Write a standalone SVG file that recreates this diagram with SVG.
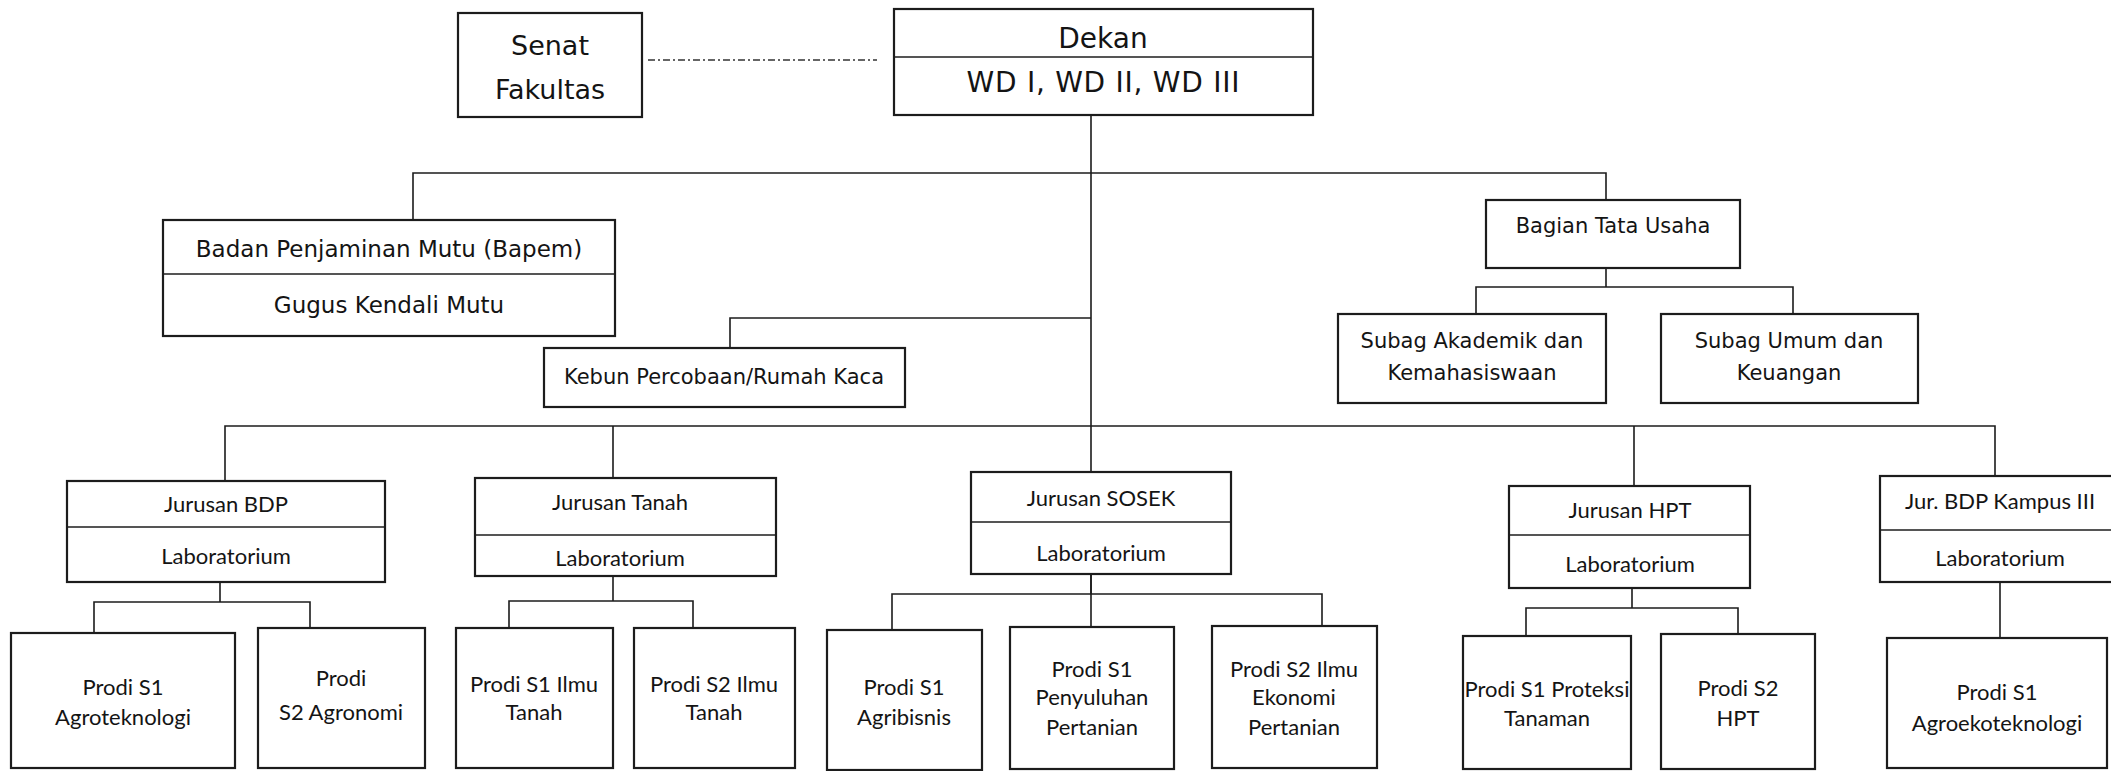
<svg xmlns="http://www.w3.org/2000/svg" width="2111" height="771" viewBox="0 0 2111 771">
<style>
.box{fill:#fff;stroke:#1c1c1c;stroke-width:2.2}
.sep{stroke:#1c1c1c;stroke-width:1.6}
.conn{stroke:#1c1c1c;stroke-width:1.6;fill:none}
.dash{stroke:#333;stroke-width:1.6;fill:none;stroke-dasharray:7 3 2 3}
.v{font-family:"DejaVu Sans",Verdana,sans-serif;fill:#141414;text-anchor:middle}
.c{font-family:Lato,"Open Sans",sans-serif;fill:#141414;text-anchor:middle;font-size:22px}
.t1{font-size:28px}
.t2{font-size:23px}
.t3{font-size:21px}
</style>
<rect width="2111" height="771" fill="#fff"/>
<g id="connectors">
<path class="dash" d="M648 60H877"/>
<path class="conn" d="M1091 115V594M413 220V173H1606V200"/>
<path class="conn" d="M730 348V318H1091"/>
<path class="conn" d="M1606 268V287M1476 314V287H1793V314"/>
<path class="conn" d="M225 481V426H1995V476M613 426V478M1634 426V486"/>
<path class="conn" d="M220 582V602M94 633V602H310V628"/>
<path class="conn" d="M613 576V601M509 628V601H693V628"/>
<path class="conn" d="M1091 574V627M892 630V594H1322V626"/>
<path class="conn" d="M1632 588V608M1526 636V608H1738V634"/>
<path class="conn" d="M2000 582V638"/>
</g>
<g id="senat">
<rect class="box" x="458" y="13" width="184" height="104"/>
<text class="v" font-size="27" x="550" y="55">Senat</text>
<text class="v" font-size="27" x="550" y="99">Fakultas</text>
</g>
<g id="dekan">
<rect class="box" x="894" y="9" width="419" height="106"/>
<line class="sep" x1="894" y1="57" x2="1313" y2="57"/>
<text class="v t1" x="1103" y="48">Dekan</text>
<text class="v t1" x="1103" y="92" textLength="273" lengthAdjust="spacing">WD I, WD II, WD III</text>
</g>
<g id="bapem">
<rect class="box" x="163" y="220" width="452" height="116"/>
<line class="sep" x1="163" y1="274" x2="615" y2="274"/>
<text class="v t2" x="389" y="257">Badan Penjaminan Mutu (Bapem)</text>
<text class="v t2" x="389" y="313">Gugus Kendali Mutu</text>
</g>
<g id="kebun">
<rect class="box" x="544" y="348" width="361" height="59"/>
<text class="v t3" x="724" y="384">Kebun Percobaan/Rumah Kaca</text>
</g>
<g id="tata-usaha">
<rect class="box" x="1486" y="200" width="254" height="68"/>
<text class="v t3" x="1613" y="233">Bagian Tata Usaha</text>
</g>
<g id="subag-akademik">
<rect class="box" x="1338" y="314" width="268" height="89"/>
<text class="v t3" x="1472" y="348">Subag Akademik dan</text>
<text class="v t3" x="1472" y="380">Kemahasiswaan</text>
</g>
<g id="subag-umum">
<rect class="box" x="1661" y="314" width="257" height="89"/>
<text class="v t3" x="1789" y="348">Subag Umum dan</text>
<text class="v t3" x="1789" y="380">Keuangan</text>
</g>
<g id="jurusan-bdp">
<rect class="box" x="67" y="481" width="318" height="101"/>
<line class="sep" x1="67" y1="527" x2="385" y2="527"/>
<text class="c" x="226" y="512">Jurusan BDP</text>
<text class="c" x="226" y="564">Laboratorium</text>
</g>
<g id="jurusan-tanah">
<rect class="box" x="475" y="478" width="301" height="98"/>
<line class="sep" x1="475" y1="535" x2="776" y2="535"/>
<text class="c" x="620" y="510">Jurusan Tanah</text>
<text class="c" x="620" y="566">Laboratorium</text>
</g>
<g id="jurusan-sosek">
<rect class="box" x="971" y="472" width="260" height="102"/>
<line class="sep" x1="971" y1="522" x2="1231" y2="522"/>
<text class="c" x="1101" y="506">Jurusan SOSEK</text>
<text class="c" x="1101" y="561">Laboratorium</text>
</g>
<g id="jurusan-hpt">
<rect class="box" x="1509" y="486" width="241" height="102"/>
<line class="sep" x1="1509" y1="535" x2="1750" y2="535"/>
<text class="c" x="1630" y="518">Jurusan HPT</text>
<text class="c" x="1630" y="572">Laboratorium</text>
</g>
<g id="jurusan-bdp-kampus3">
<rect class="box" x="1880" y="476" width="240" height="106"/>
<line class="sep" x1="1880" y1="530" x2="2120" y2="530"/>
<text class="c" x="2000" y="509">Jur. BDP Kampus III</text>
<text class="c" x="2000" y="566">Laboratorium</text>
</g>
<g id="prodi-agroteknologi">
<rect class="box" x="11" y="633" width="224" height="135"/>
<text class="c" x="123" y="695">Prodi S1</text>
<text class="c" x="123" y="725">Agroteknologi</text>
</g>
<g id="prodi-agronomi">
<rect class="box" x="258" y="628" width="167" height="140"/>
<text class="c" x="341" y="686">Prodi</text>
<text class="c" x="341" y="720">S2 Agronomi</text>
</g>
<g id="prodi-s1-ilmu-tanah">
<rect class="box" x="456" y="628" width="157" height="140"/>
<text class="c" x="534" y="692">Prodi S1 Ilmu</text>
<text class="c" x="534" y="720">Tanah</text>
</g>
<g id="prodi-s2-ilmu-tanah">
<rect class="box" x="634" y="628" width="161" height="140"/>
<text class="c" x="714" y="692">Prodi S2 Ilmu</text>
<text class="c" x="714" y="720">Tanah</text>
</g>
<g id="prodi-agribisnis">
<rect class="box" x="827" y="630" width="155" height="140"/>
<text class="c" x="904" y="695">Prodi S1</text>
<text class="c" x="904" y="725">Agribisnis</text>
</g>
<g id="prodi-penyuluhan">
<rect class="box" x="1010" y="627" width="164" height="142"/>
<text class="c" x="1092" y="677">Prodi S1</text>
<text class="c" x="1092" y="705">Penyuluhan</text>
<text class="c" x="1092" y="735">Pertanian</text>
</g>
<g id="prodi-ekonomi">
<rect class="box" x="1212" y="626" width="165" height="142"/>
<text class="c" x="1294" y="677">Prodi S2 Ilmu</text>
<text class="c" x="1294" y="705">Ekonomi</text>
<text class="c" x="1294" y="735">Pertanian</text>
</g>
<g id="prodi-proteksi">
<rect class="box" x="1463" y="636" width="168" height="133"/>
<text class="c" x="1547" y="697">Prodi S1 Proteksi</text>
<text class="c" x="1547" y="726">Tanaman</text>
</g>
<g id="prodi-s2-hpt">
<rect class="box" x="1661" y="634" width="154" height="135"/>
<text class="c" x="1738" y="696">Prodi S2</text>
<text class="c" x="1738" y="726">HPT</text>
</g>
<g id="prodi-agroekoteknologi">
<rect class="box" x="1887" y="638" width="220" height="130"/>
<text class="c" x="1997" y="700">Prodi S1</text>
<text class="c" x="1997" y="731">Agroekoteknologi</text>
</g>
</svg>
